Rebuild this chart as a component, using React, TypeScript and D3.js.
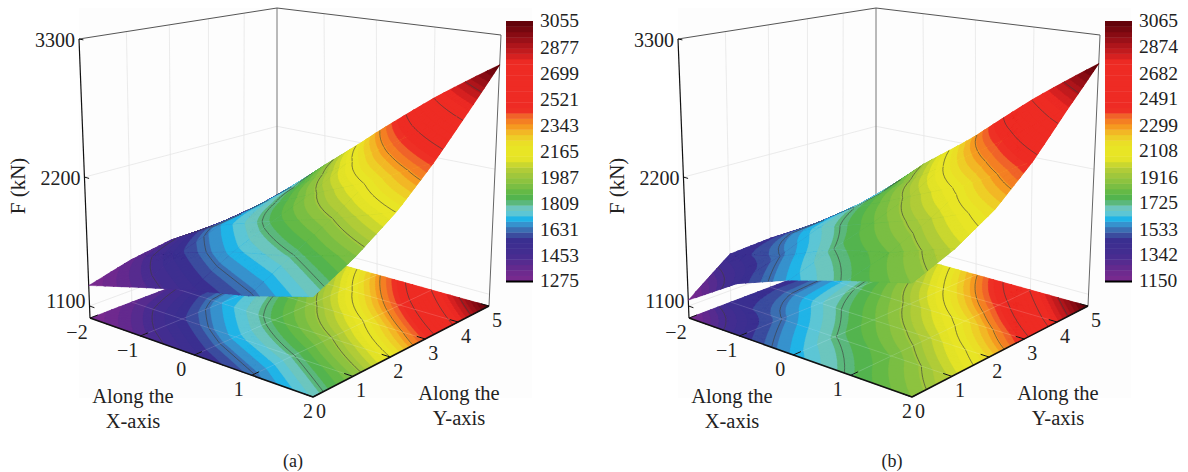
import React, { useEffect, useRef } from 'react';
import * as d3 from 'd3';

// grid of the surface
const xValues = [-2, -1, 0, 1, 2];
const yValues = [0, 1, 2, 3, 4, 5];

// F (kN), one row per x value
const forceA = [
  [1275, 1370, 1425, 1420, 1450, 1500],
  [1400, 1560, 1680, 1730, 1800, 1920],
  [1520, 1700, 1840, 1960, 2120, 2320],
  [1620, 1800, 1980, 2180, 2440, 2700],
  [1765, 1940, 2165, 2440, 2750, 3055],
];
const forceB = [
  [1150, 1420, 1440, 1430, 1450, 1500],
  [1430, 1530, 1660, 1730, 1800, 1930],
  [1600, 1720, 1820, 1940, 2110, 2290],
  [1740, 1830, 1980, 2160, 2420, 2690],
  [1870, 2000, 2190, 2450, 2770, 3065],
];

const barLabelsA = [3055, 2877, 2699, 2521, 2343, 2165, 1987, 1809, 1631, 1453, 1275];
const barLabelsB = [3065, 2874, 2682, 2491, 2299, 2108, 1916, 1725, 1533, 1342, 1150];
const zTicks = [1100, 2200, 3300];

// colour bar, position 0 (bottom) to 1 (top)
const colorPos = [0, 0.04, 0.1, 0.158, 0.19, 0.215, 0.242, 0.265, 0.29, 0.31, 0.33, 0.37, 0.427, 0.473, 0.523, 0.56, 0.6, 0.638, 0.658, 0.842, 0.87, 0.927, 1];
const colorHex = ['#7b2a8e', '#6a2a8e', '#452c90', '#3a2f90', '#3c60a8', '#3a8cc8', '#1db8ea', '#6ccad0', '#6cc4b4', '#50b058', '#55b648', '#80bf42', '#b0cc38', '#e8e525', '#e8e525', '#f0c828', '#f6921e', '#f0602a', '#ee2b24', '#ee2b24', '#d01f20', '#9a1018', '#5a0008'];

const floorCorners = [[90, 318], [313, 397], [489, 306], [277, 247]];
const topCorners = [[79, 39], [313, 86], [501, 35], [277, 8]];
const zFrac = d3.scaleLinear().domain([1000, 1100, 2200, 3300]).range([0, 0.043, 0.505, 1]);
const subdivisions = 6;

// unit square -> quad (perspective)
function quadMap(q: number[][]) {
  const [[x0, y0], [x1, y1], [x2, y2], [x3, y3]] = q;
  const dx1 = x1 - x2, dx2 = x3 - x2, sx = x0 - x1 + x2 - x3;
  const dy1 = y1 - y2, dy2 = y3 - y2, sy = y0 - y1 + y2 - y3;
  const den = dx1 * dy2 - dx2 * dy1;
  const g = (sx * dy2 - dx2 * sy) / den;
  const h = (dx1 * sy - sx * dy1) / den;
  const a = x1 - x0 + g * x1, b = x3 - x0 + h * x3;
  const d = y1 - y0 + g * y1, e = y3 - y0 + h * y3;
  return (u: number, v: number) => {
    const w = g * u + h * v + 1;
    return [(a * u + b * v + x0) / w, (d * u + e * v + y0) / w];
  };
}

const floorMap = quadMap(floorCorners);
const topMap = quadMap(topCorners);
const uScale = d3.scaleLinear().domain([-2, 2]).range([0, 1]);
const vScale = d3.scaleLinear().domain([0, 5]).range([0, 1]);

function project(x: number, y: number, f: number) {
  const u = uScale(x), v = vScale(y), t = zFrac(f);
  const a = floorMap(u, v), b = topMap(u, v);
  return [a[0] + (b[0] - a[0]) * t, a[1] + (b[1] - a[1]) * t];
}

type Pt = { x: number; y: number; f: number };

function clip(poly: Pt[], level: number, keepAbove: boolean) {
  const out: Pt[] = [];
  poly.forEach((p, i) => {
    const q = poly[(i + 1) % poly.length];
    const pIn = keepAbove ? p.f >= level : p.f <= level;
    const qIn = keepAbove ? q.f >= level : q.f <= level;
    if (pIn) out.push(p);
    if (pIn !== qIn) {
      const t = (level - p.f) / (q.f - p.f);
      out.push({ x: p.x + (q.x - p.x) * t, y: p.y + (q.y - p.y) * t, f: level });
    }
  });
  return out;
}

function contourSegment(tri: Pt[], level: number) {
  const pts: Pt[] = [];
  tri.forEach((p, i) => {
    const q = tri[(i + 1) % 3];
    if ((p.f < level) !== (q.f < level)) {
      const t = (level - p.f) / (q.f - p.f);
      pts.push({ x: p.x + (q.x - p.x) * t, y: p.y + (q.y - p.y) * t, f: level });
    }
  });
  return pts.length === 2 ? pts : null;
}

// bilinear inside one grid cell, cut into small triangles so no diagonal shows in the contours
function cellTriangles(force: number[][], i: number, j: number) {
  const out: Pt[][] = [];
  const at = (a: number, b: number): Pt => {
    const s = a / subdivisions, t = b / subdivisions;
    return {
      x: xValues[i] + s * (xValues[i + 1] - xValues[i]),
      y: yValues[j] + t * (yValues[j + 1] - yValues[j]),
      f: (1 - s) * (1 - t) * force[i][j] + s * (1 - t) * force[i + 1][j] + s * t * force[i + 1][j + 1] + (1 - s) * t * force[i][j + 1],
    };
  };
  for (let a = 0; a < subdivisions; a++) {
    for (let b = 0; b < subdivisions; b++) {
      out.push([at(a, b), at(a + 1, b), at(a + 1, b + 1)], [at(a, b), at(a + 1, b + 1), at(a, b + 1)]);
    }
  }
  return out;
}

function drawPanel(root: any, offset: number, force: number[][], barLabels: number[], tag: string) {
  const g = root.append('g').attr('transform', `translate(${offset},0)`);
  const fMin = barLabels[barLabels.length - 1], fMax = barLabels[0];
  const color = d3.scaleLinear<string>().domain(colorPos.map(p => fMin + p * (fMax - fMin))).range(colorHex);
  const nBands = 48;
  const bands = d3.range(nBands).map(i => fMin + (i * (fMax - fMin)) / nBands);
  const step = (fMax - fMin) / nBands;
  const line = d3.line();

  g.append('rect').attr('x', 79).attr('y', 8).attr('width', 453).attr('height', 390).attr('fill', '#fdfdfd');

  // wall grid
  const grid = '#e6e6e6';
  const seg = (a: number[], b: number[], stroke: string, w: number) =>
    g.append('path').attr('d', line([a, b] as any)).attr('stroke', stroke).attr('stroke-width', w).attr('fill', 'none');
  yValues.slice(1, -1).forEach(y => seg(project(-2, y, 1000), project(-2, y, 3300), grid, 0.8));
  xValues.slice(1, -1).forEach(x => seg(project(x, 5, 1000), project(x, 5, 3300), grid, 0.8));
  zTicks.slice(0, 2).forEach(z => {
    seg(project(-2, 0, z), project(-2, 5, z), grid, 0.8);
    seg(project(-2, 5, z), project(2, 5, z), grid, 0.8);
  });

  // grid cells
  const cells: { i: number; j: number; tris: Pt[][] }[] = [];
  xValues.slice(0, -1).forEach((_, i) => {
    yValues.slice(0, -1).forEach((_, j) => {
      cells.push({ i, j, tris: cellTriangles(force, i, j) });
    });
  });

  // each band reaches a step past its top and the next band paints over that, so no seams
  const paintCell = (tris: Pt[][], toScreen: (p: Pt) => number[]) => {
    bands.forEach(b => {
      const polys = tris.map(t => clip(clip(t, b, true), b + 2 * step, false)).filter(p => p.length >= 3);
      if (!polys.length) return;
      const c = color(b + step / 2);
      g.append('path')
        .attr('d', polys.map(p => line(p.map(toScreen) as any) + 'Z').join(''))
        .attr('fill', c).attr('stroke', c).attr('stroke-width', 0.35);
    });
    barLabels.slice(1, -1).forEach(level => {
      const segs = tris.map(t => contourSegment(t, level)).filter(Boolean) as Pt[][];
      if (!segs.length) return;
      g.append('path')
        .attr('d', segs.map(s => line(s.map(toScreen) as any)).join(''))
        .attr('fill', 'none').attr('stroke', '#3c3c3c').attr('stroke-width', 0.8).attr('stroke-opacity', 0.8);
    });
  };

  // floor map
  cells.forEach(c => paintCell(c.tris, p => project(p.x, p.y, 1000)));

  // floor grid sits over the colours
  xValues.slice(1, -1).forEach(x => seg(project(x, 0, 1000), project(x, 5, 1000), 'rgba(255,255,255,0.2)', 0.8));
  yValues.slice(1, -1).forEach(y => seg(project(-2, y, 1000), project(2, y, 1000), 'rgba(255,255,255,0.2)', 0.8));

  // box
  const edge = '#555';
  seg(project(-2, 5, 1000), project(-2, 5, 3300), '#777', 1);
  seg(project(-2, 0, 3300), project(-2, 5, 3300), edge, 1);
  seg(project(-2, 5, 3300), project(2, 5, 3300), edge, 1);
  seg(project(2, 5, 1000), project(2, 5, 3300), '#666', 1);
  seg(project(-2, 0, 1000), project(-2, 0, 3300), '#111', 1.2);
  seg(project(-2, 0, 1000), project(2, 0, 1000), '#111', 1.5);
  seg(project(2, 0, 1000), project(2, 5, 1000), '#111', 1.5);

  // surface, far cells first
  const depth = (c: { i: number; j: number }) => (1 - uScale(xValues[c.i] + 0.5)) + vScale(yValues[c.j] + 0.5);
  [...cells].sort((a, b) => depth(b) - depth(a)).forEach(c => paintCell(c.tris, p => project(p.x, p.y, p.f)));

  // ticks
  xValues.forEach(x => seg(project(x, 0, 1000), project(x, 0.18, 1000), '#111', 1));
  yValues.forEach(y => seg(project(2, y, 1000), project(1.86, y, 1000), '#111', 1));
  zTicks.forEach(z => seg(project(-2, 0, z), project(-1.9, 0, z), '#111', 1));

  const label = (txt: string, x: number, y: number, anchor = 'middle', size = 20) =>
    g.append('text').attr('x', x).attr('y', y).attr('text-anchor', anchor)
      .attr('dominant-baseline', 'central')
      .attr('font-family', '"Liberation Serif", serif').attr('font-size', size).attr('fill', '#222').text(txt);

  zTicks.forEach(z => {
    const p = project(-2, 0, z);
    label(String(z), p[0] - 4, p[1] + (z === 1100 ? -5 : 1), 'end');
  });
  xValues.forEach(x => {
    const p = project(x, 0, 1000);
    label(String(x).replace('-', '\u2212'), p[0] + (x === 2 ? -5 : -13), p[1] + 14);
  });
  yValues.forEach(y => {
    const p = project(2, y, 1000);
    label(String(y), p[0] + 8, p[1] + 14);
  });
  label('Along the', 133, 396, 'middle', 20.5);
  label('X-axis', 133, 421, 'middle', 20.5);
  label('Along the', 459, 393, 'middle', 20.5);
  label('Y-axis', 459, 418, 'middle', 20.5);
  label('F (kN)', 0, 0, 'middle', 21).attr('x', null).attr('y', null).attr('transform', 'translate(18,186) rotate(-90)');
  label(tag, 293, 461, 'middle', 18);

  // colour bar
  const barY = d3.scaleLinear().domain([fMin, fMax]).range([281, 21]);
  bands.forEach(lo => {
    g.append('rect').attr('x', 506).attr('width', 27)
      .attr('y', barY(lo + step)).attr('height', barY(lo) - barY(lo + step) + 0.4)
      .attr('fill', color(lo + step / 2));
  });
  g.append('rect').attr('x', 506).attr('y', 280.5).attr('width', 27).attr('height', 2).attr('fill', '#000');
  barLabels.forEach(v => label(String(v), 540, barY(v) - (v === fMin ? 1 : 0) + (v === fMax ? -1 : 0), 'start', 19.5));
}

export default function App() {
  const ref = useRef<SVGSVGElement>(null);

  useEffect(() => {
    const svg = d3.select(ref.current);
    svg.selectAll('*').remove();
    svg.append('rect').attr('width', 1188).attr('height', 472).attr('fill', '#fff');
    drawPanel(svg, 0, forceA, barLabelsA, '(a)');
    drawPanel(svg, 599, forceB, barLabelsB, '(b)');
  }, []);

  return <svg ref={ref} width={1188} height={472} style={{ position: 'absolute', left: 0, top: 0, display: 'block' }} />;
}
